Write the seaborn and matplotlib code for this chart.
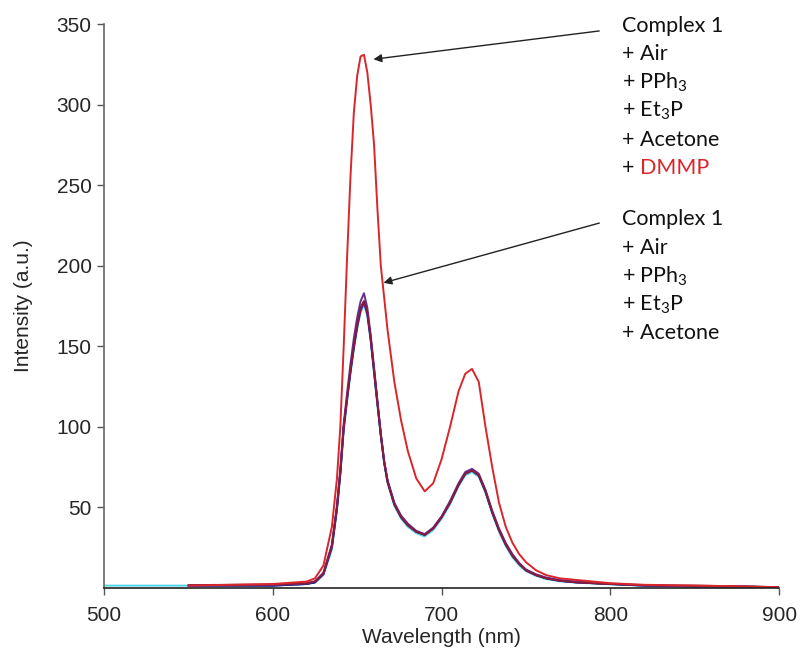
import numpy as np
import pandas as pd
import matplotlib
matplotlib.use("Agg")
import matplotlib.pyplot as plt
import seaborn as sns

sns.set_style("white")
plt.rcParams["font.family"] = ["Liberation Sans", "DejaVu Sans"]
plt.rcParams["mathtext.fontset"] = "custom"
plt.rcParams["mathtext.rm"] = "Lato"
plt.rcParams["mathtext.it"] = "Lato"

nan = np.nan
wavelength = [500, 550, 600, 620, 625, 630, 635, 638, 640, 642, 644, 646, 648, 650,
              652, 654, 656, 658, 660, 662, 664, 666, 668, 672, 676, 680, 685, 690,
              695, 700, 705, 710, 714, 718, 722, 726, 730, 734, 738, 742, 746, 750,
              756, 762, 770, 780, 790, 800, 820, 850, 880, 900]

complex1 = [1.5, 1.5, 1.5, 2.5, 3.5, 8, 24, 48, 70, 97, 116, 133, 148, 161,
            171, 176, 169, 153, 133, 113, 94, 77, 65, 51, 43, 38, 34, 32,
            36, 43, 52, 63, 70, 72, 69, 59, 46, 35, 26, 19, 14, 10.5,
            7.5, 5.5, 4.2, 3.3, 2.8, 2.3, 1.4, 1.0, 0.8, 0.5]
air = [nan, 1.5, 1.5, 2.5, 3.5, 8.5, 25, 49, 71, 99, 117, 134, 149, 162,
       172, 177, 170, 154, 134, 114, 95, 78, 66, 52, 44, 39, 35, 33,
       37, 44, 53, 64, 71, 73, 70, 60, 47, 36, 27, 20, 15, 11,
       8, 6, 4.5, 3.5, 3, 2.5, 1.5, 1.0, 0.8, 0.5]
pph3 = [nan, 1.5, 1.5, 2.5, 3.5, 9, 26, 50, 72, 100, 118, 135, 150, 163,
        174, 178, 171, 155, 135, 115, 95, 78, 66, 52, 44, 39, 35, 33,
        37, 44, 53, 64, 71, 73, 70, 60, 47, 36, 27, 20, 15, 11,
        8, 6, 4.5, 3.5, 3, 2.5, 1.5, 1.0, 0.8, 0.5]
et3p = [nan, 1.5, 1.8, 2.8, 4, 9.5, 27, 51, 74, 102, 121, 139, 155, 168,
        178, 183, 174, 157, 137, 116, 96, 79, 67, 53, 45, 40, 35.5, 33.5,
        37.5, 44.5, 54, 65, 72, 74, 71, 61, 48, 37, 28, 21, 15.5, 11.5,
        8.5, 6.5, 5, 4, 3.2, 2.7, 1.6, 1.1, 0.8, 0.5]
acetone = [nan, 1.8, 2.2, 3.0, 4.2, 9, 26, 50, 72, 100, 118, 135, 150, 163,
           173, 178, 171, 155, 135, 115, 95, 78, 66, 52, 44, 39, 35, 33,
           37, 44, 53, 64, 71, 73, 70, 60, 47, 36, 27, 20, 15, 11,
           8, 6, 4.5, 3.5, 3, 2.5, 1.8, 1.5, 1.0, 0.5]
dmmp = [nan, 1.5, 2.5, 4, 6, 14, 38, 68, 100, 150, 205, 255, 295, 318,
        330, 331, 320, 300, 275, 235, 200, 180, 160, 128, 104, 85, 68, 60,
        65, 80, 100, 122, 133, 136, 128, 100, 75, 53, 38, 28, 21, 16,
        11, 8, 6, 5, 4, 3, 2, 1.5, 1.0, 0.5]

series_names = ["Complex 1", "+ Air", "+ PPh3", "+ Et3P", "+ Acetone", "+ DMMP"]
series_values = [complex1, air, pph3, et3p, acetone, dmmp]
series_colors = ["#4fd6e6", "#3a4fc4", "#1c1c6a", "#6a2c8c", "#8a1a3c", "#d9262b"]

x_ticks = [500, 600, 700, 800, 900]
y_ticks = [50, 100, 150, 200, 250, 300, 350]

df = pd.concat([pd.DataFrame({"Wavelength": wavelength, "Intensity": v, "Series": n})
                for n, v in zip(series_names, series_values)], ignore_index=True)

fig = plt.figure(figsize=(8.0, 6.53), dpi=100)
ax = fig.add_axes([0.13, 0.0995, 0.844, 0.8635])

sns.lineplot(data=df, x="Wavelength", y="Intensity", hue="Series",
             palette=dict(zip(series_names, series_colors)), linewidth=1.4,
             legend=False, ax=ax, sort=False, estimator=None)

ax.set_xlim(500, 900)
ax.set_ylim(0, 350)
ax.set_xticks(x_ticks)
ax.set_yticks(y_ticks)
ax.tick_params(axis="both", direction="out", length=5, width=1, color="#555555",
               labelsize=15, left=True, bottom=True)
ax.tick_params(axis="x", pad=8)
ax.tick_params(axis="y", pad=4)
ax.set_xlabel("Wavelength (nm)", fontsize=15, labelpad=2)
ax.set_ylabel("Intensity (a.u.)", fontsize=15, labelpad=17)
for s in ["top", "right"]:
    ax.spines[s].set_visible(False)
ax.spines["left"].set_color("#666666")
ax.spines["bottom"].set_color("#222222")
ax.spines["left"].set_linewidth(1.2)
ax.spines["bottom"].set_linewidth(1.2)

# annotations
lab_font = dict(family=["Lato", "DejaVu Sans"], fontsize=15.5, color="#111111")
block1 = ["Complex 1", "+ Air", "+ PPh$_3$", "+ Et$_3$P", "+ Acetone", "+ "]
block2 = ["Complex 1", "+ Air", "+ PPh$_3$", "+ Et$_3$P", "+ Acetone"]
x_txt = 807
step = 17.7
y1 = 349
y2 = 229
last = None
for i, t in enumerate(block1):
    last = ax.text(x_txt, y1 - i * step, t, ha="left", va="center", clip_on=False, **lab_font)
ax.annotate("DMMP", xy=(1, 0), xycoords=last, ha="left", va="bottom",
            family=["Lato", "DejaVu Sans"], fontsize=15.5, color="#d9262b")
for i, t in enumerate(block2):
    ax.text(x_txt, y2 - i * step, t, ha="left", va="center", clip_on=False, **lab_font)

arrow = dict(arrowstyle="-|>", color="#222222", lw=1.0, mutation_scale=12)
ax.annotate("", xy=(658, 328), xytext=(795, 346), arrowprops=arrow, annotation_clip=False)
ax.annotate("", xy=(664, 189), xytext=(795, 227), arrowprops=arrow, annotation_clip=False)

fig.savefig("out.png", dpi=100)
